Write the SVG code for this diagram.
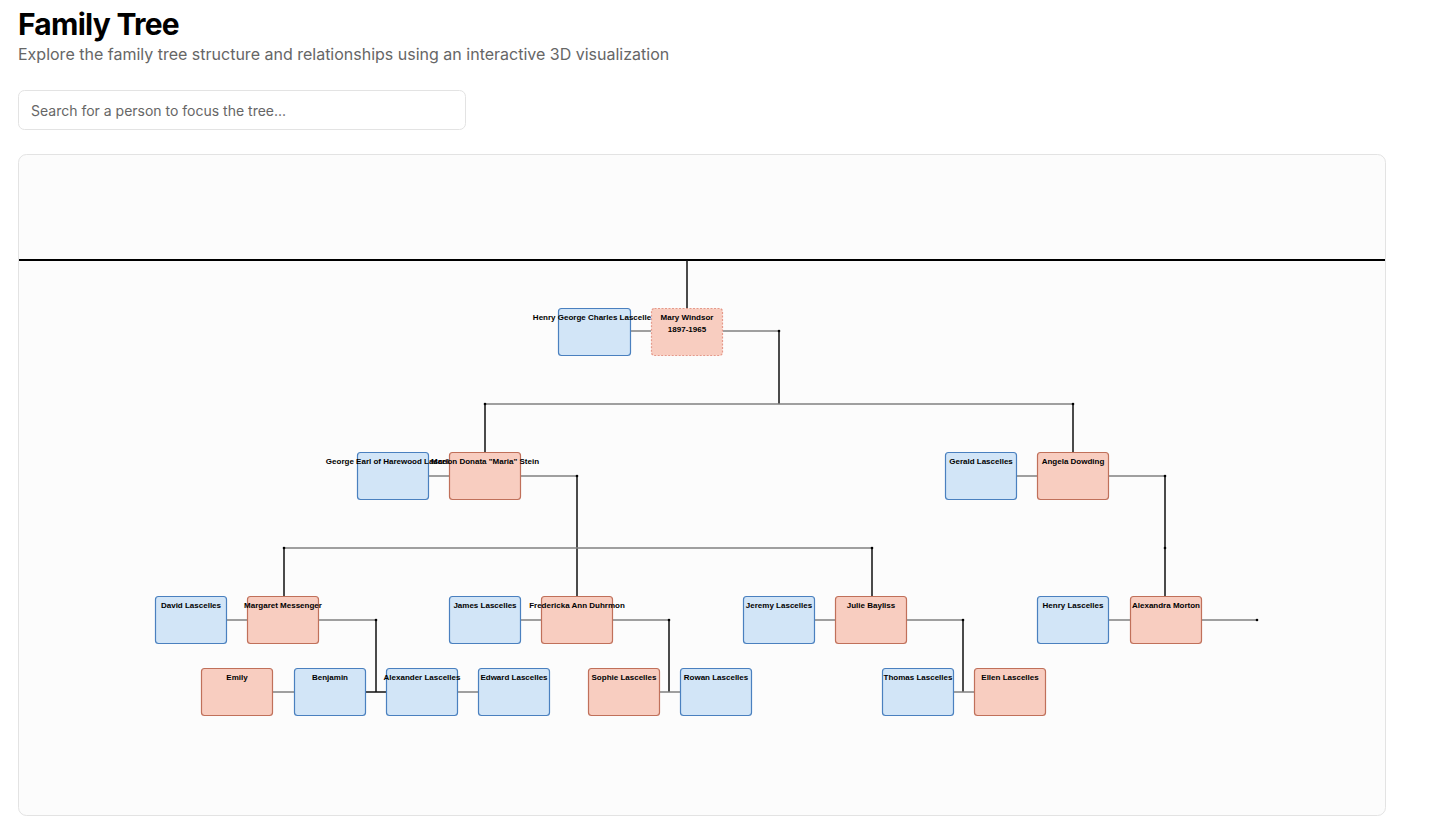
<svg xmlns="http://www.w3.org/2000/svg" width="1435" height="834" viewBox="0 0 1435 834">
<style>
.title{font-family:Inter,"Noto Sans",sans-serif;font-weight:700;font-size:30px;fill:#000;letter-spacing:-0.75px}
.sub{font-family:Inter,"Noto Sans",sans-serif;font-size:16px;fill:#666}
.ph{font-family:Inter,"Noto Sans",sans-serif;font-size:14px;fill:#666}
.m rect{fill:#d2e5f7;stroke:#4a80bf;stroke-width:1.2}
.f rect{fill:#f8cdc0;stroke:#c0705a;stroke-width:1.2}
.n text{font-family:"Liberation Sans",Arial,sans-serif;font-weight:700;font-size:8px;fill:#000;text-anchor:middle}
.g{stroke:#808080;stroke-width:1.5;fill:none}
.k{stroke:#111;stroke-width:1.5;fill:none}
.d{fill:#000}
</style>
<rect width="1435" height="834" fill="#fff"/>
<text class="title" x="18" y="35">Family Tree</text>
<text class="sub" x="18" y="60">Explore the family tree structure and relationships using an interactive 3D visualization</text>
<g id="search">
<rect x="18.5" y="90.5" width="447" height="39" rx="6" fill="#fff" stroke="#e3e3e3"/>
<text class="ph" x="31" y="116">Search for a person to focus the tree...</text>
</g>
<rect id="panel" x="18.5" y="154.5" width="1367" height="661" rx="8" fill="#fcfcfc" stroke="#e3e3e3"/>
<g id="connectors">
<line x1="19" y1="260" x2="1385" y2="260" stroke="#000" stroke-width="2"/>
<line class="k" x1="687" y1="260" x2="687" y2="308"/>
<line class="g" x1="630" y1="331" x2="651" y2="331"/>
<line class="g" x1="723" y1="331" x2="779" y2="331"/>
<line class="k" x1="779" y1="331" x2="779" y2="404"/>
<line class="g" x1="485" y1="404" x2="1073" y2="404"/>
<line class="k" x1="485" y1="404" x2="485" y2="452"/>
<line class="k" x1="1073" y1="404" x2="1073" y2="452"/>
<line class="g" x1="429" y1="476" x2="449" y2="476"/>
<line class="g" x1="521" y1="476" x2="577" y2="476"/>
<line class="k" x1="577" y1="476" x2="577" y2="596"/>
<line class="g" x1="284" y1="548" x2="872" y2="548"/>
<line class="k" x1="284" y1="548" x2="284" y2="596"/>
<line class="k" x1="872" y1="548" x2="872" y2="596"/>
<line class="g" x1="1017" y1="476" x2="1037" y2="476"/>
<line class="g" x1="1109" y1="476" x2="1165" y2="476"/>
<line class="k" x1="1165" y1="476" x2="1165" y2="596"/>
<line class="g" x1="227" y1="620" x2="247" y2="620"/>
<line class="g" x1="319" y1="620" x2="376" y2="620"/>
<line class="k" x1="376" y1="620" x2="376" y2="692"/>
<line class="g" x1="521" y1="620" x2="541" y2="620"/>
<line class="g" x1="613" y1="620" x2="669" y2="620"/>
<line class="k" x1="669" y1="620" x2="669" y2="692"/>
<line class="g" x1="815" y1="620" x2="835" y2="620"/>
<line class="g" x1="907" y1="620" x2="963" y2="620"/>
<line class="k" x1="963" y1="620" x2="963" y2="692"/>
<line class="g" x1="1109" y1="620" x2="1130" y2="620"/>
<line class="g" x1="1202" y1="620" x2="1257" y2="620"/>
<line class="g" x1="273" y1="692" x2="294" y2="692"/>
<line class="k" x1="366" y1="692" x2="386" y2="692"/>
<line class="g" x1="458" y1="692" x2="478" y2="692"/>
<line class="g" x1="660" y1="692" x2="680" y2="692"/>
<line class="g" x1="954" y1="692" x2="974" y2="692"/>
<circle class="d" cx="779" cy="331" r="1.3"/>
<circle class="d" cx="485" cy="404" r="1.3"/>
<circle class="d" cx="1073" cy="404" r="1.3"/>
<circle class="d" cx="577" cy="476" r="1.3"/>
<circle class="d" cx="284" cy="548" r="1.3"/>
<circle class="d" cx="872" cy="548" r="1.3"/>
<circle class="d" cx="1165" cy="476" r="1.3"/>
<circle class="d" cx="1165" cy="548" r="1.3"/>
<circle class="d" cx="376" cy="620" r="1.3"/>
<circle class="d" cx="669" cy="620" r="1.3"/>
<circle class="d" cx="963" cy="620" r="1.3"/>
<circle class="d" cx="1257" cy="620" r="1.3"/>
</g>
<g id="henry-george" class="n m"><rect x="558.5" y="308.5" width="72" height="47" rx="3"/><text x="592" y="320">Henry George Charles Lascelle</text></g>
<g id="mary-windsor" class="n f"><rect x="651.5" y="308.5" width="71" height="47" rx="3" style="stroke:#e5998a;stroke-dasharray:2 1.5"/><text x="687" y="320">Mary Windsor</text><text x="687" y="332">1897-1965</text></g>
<g id="george" class="n m"><rect x="357.5" y="452.5" width="71" height="47" rx="3"/><text x="393" y="464">George Earl of Harewood Lascelles</text></g>
<g id="marion" class="n f"><rect x="449.5" y="452.5" width="71" height="47" rx="3"/><text x="485" y="464">Marion Donata "Maria" Stein</text></g>
<g id="gerald" class="n m"><rect x="945.5" y="452.5" width="71" height="47" rx="3"/><text x="981" y="464">Gerald Lascelles</text></g>
<g id="angela" class="n f"><rect x="1037.5" y="452.5" width="71" height="47" rx="3"/><text x="1073" y="464">Angela Dowding</text></g>
<g id="david" class="n m"><rect x="155.5" y="596.5" width="71" height="47" rx="3"/><text x="191" y="608">David Lascelles</text></g>
<g id="margaret" class="n f"><rect x="247.5" y="596.5" width="71" height="47" rx="3"/><text x="283" y="608">Margaret Messenger</text></g>
<g id="james" class="n m"><rect x="449.5" y="596.5" width="71" height="47" rx="3"/><text x="485" y="608">James Lascelles</text></g>
<g id="fredericka" class="n f"><rect x="541.5" y="596.5" width="71" height="47" rx="3"/><text x="577" y="608">Fredericka Ann Duhrmon</text></g>
<g id="jeremy" class="n m"><rect x="743.5" y="596.5" width="71" height="47" rx="3"/><text x="779" y="608">Jeremy Lascelles</text></g>
<g id="julie" class="n f"><rect x="835.5" y="596.5" width="71" height="47" rx="3"/><text x="871" y="608">Julie Bayliss</text></g>
<g id="henry" class="n m"><rect x="1037.5" y="596.5" width="71" height="47" rx="3"/><text x="1073" y="608">Henry Lascelles</text></g>
<g id="alexandra" class="n f"><rect x="1130.5" y="596.5" width="71" height="47" rx="3"/><text x="1166" y="608">Alexandra Morton</text></g>
<g id="emily" class="n f"><rect x="201.5" y="668.5" width="71" height="47" rx="3"/><text x="237" y="680">Emily</text></g>
<g id="benjamin" class="n m"><rect x="294.5" y="668.5" width="71" height="47" rx="3"/><text x="330" y="680">Benjamin</text></g>
<g id="alexander" class="n m"><rect x="386.5" y="668.5" width="71" height="47" rx="3"/><text x="422" y="680">Alexander Lascelles</text></g>
<g id="edward" class="n m"><rect x="478.5" y="668.5" width="71" height="47" rx="3"/><text x="514" y="680">Edward Lascelles</text></g>
<g id="sophie" class="n f"><rect x="588.5" y="668.5" width="71" height="47" rx="3"/><text x="624" y="680">Sophie Lascelles</text></g>
<g id="rowan" class="n m"><rect x="680.5" y="668.5" width="71" height="47" rx="3"/><text x="716" y="680">Rowan Lascelles</text></g>
<g id="thomas" class="n m"><rect x="882.5" y="668.5" width="71" height="47" rx="3"/><text x="918" y="680">Thomas Lascelles</text></g>
<g id="ellen" class="n f"><rect x="974.5" y="668.5" width="71" height="47" rx="3"/><text x="1010" y="680">Ellen Lascelles</text></g>
</svg>
